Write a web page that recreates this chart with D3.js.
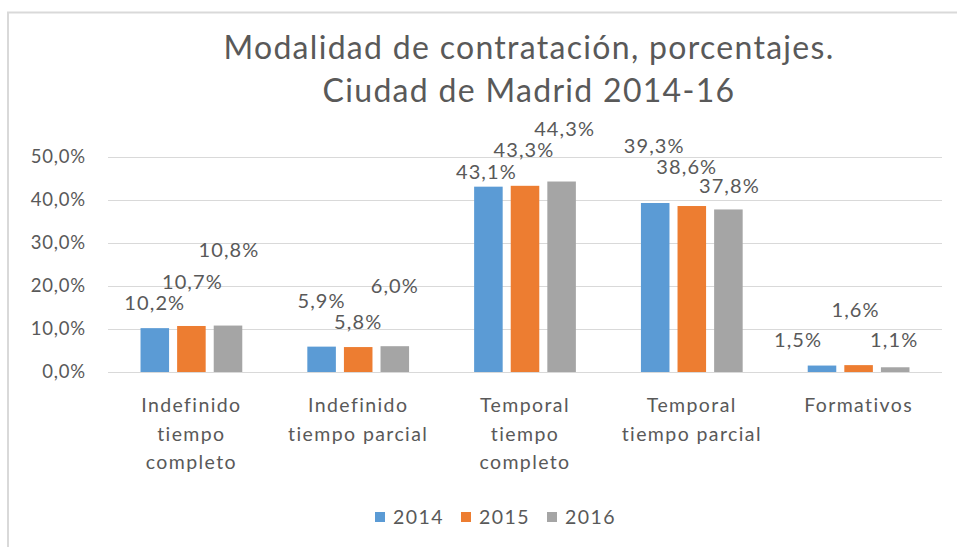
<!DOCTYPE html>
<html>
<head>
<meta charset="utf-8">
<script src="https://cdn.jsdelivr.net/npm/d3@7"></script>
<style>
  html, body { margin: 0; padding: 0; background: #fff; }
  svg { display: block; font-family: Lato, "Open Sans", sans-serif; }
</style>
</head>
<body>
<svg id="chart" width="957" height="547"></svg>
<script>
// ---- data ----
const categories = [
  ["Indefinido", "tiempo", "completo"],
  ["Indefinido", "tiempo parcial"],
  ["Temporal", "tiempo", "completo"],
  ["Temporal", "tiempo parcial"],
  ["Formativos"]
];
const seriesNames = ["2014", "2015", "2016"];
const values2014 = [10.2, 5.9, 43.1, 39.3, 1.5];
const values2015 = [10.7, 5.8, 43.3, 38.6, 1.6];
const values2016 = [10.8, 6.0, 44.3, 37.8, 1.1];
const yTicks = [0, 10, 20, 30, 40, 50];
const titleLines = ["Modalidad de contratación, porcentajes.", "Ciudad de Madrid 2014-16"];

// ---- layout (label nudges in px, [dx, dy] of label centre relative to bar top centre) ----
const labelNudge = [
  [[0, -25], [1, -44], [1, -76]],
  [[0, -46], [0, -25], [0, -60]],
  [[-2, -15], [-1, -36], [3, -53]],
  [[-1, -57], [-5, -39], [1, -23]],
  [[-24, -26], [-3, -55], [-1, -27]]
];
const colors = ["#5b9bd5", "#ed7d31", "#a5a5a5"];
const textColor = "#595959";

const seriesValues = [values2014, values2015, values2016];
const svg = d3.select("#chart");

// chart border
svg.append("path")
  .attr("d", "M8,547 L8,12.5 L957,12.5")
  .attr("fill", "none").attr("stroke", "#d9d9d9").attr("stroke-width", 2);

const plot = { left: 108, right: 942, top: 157, bottom: 372 };

const y = d3.scaleLinear().domain([0, 50]).range([plot.bottom, plot.top]);
const x0 = d3.scaleBand().domain(d3.range(categories.length))
  .range([plot.left, plot.right]).paddingInner(0.39).paddingOuter(0.195);
const x1 = d3.scaleBand().domain(d3.range(seriesNames.length))
  .range([0, x0.bandwidth()]).paddingInner(0.22).paddingOuter(0);

const fmt = v => d3.format(".1f")(v).replace(".", ",") + "%";

// title
svg.append("g").selectAll("text").data(titleLines).join("text")
  .attr("x", 529).attr("y", (d, i) => 59 + i * 43)
  .attr("text-anchor", "middle")
  .attr("font-size", 32).attr("letter-spacing", 1.3).attr("fill", textColor)
  .text(d => d);

// gridlines
svg.append("g").selectAll("line").data(yTicks).join("line")
  .attr("x1", plot.left).attr("x2", plot.right)
  .attr("y1", d => Math.round(y(d)) + 0.5).attr("y2", d => Math.round(y(d)) + 0.5)
  .attr("stroke", "#d9d9d9").attr("stroke-width", 1);

// y axis labels
const yAxis = d3.axisLeft(y).tickValues(yTicks).tickSize(0).tickPadding(0)
  .tickFormat(d => d3.format(".1f")(d).replace(".", ",") + "%");
const yg = svg.append("g").attr("transform", `translate(${86},0)`).call(yAxis);
yg.select(".domain").remove();
yg.selectAll("text").attr("font-size", 18.5).attr("letter-spacing", 0.8).attr("fill", textColor)
  .attr("font-family", "Lato, 'Open Sans', sans-serif");

// bars
const groups = svg.append("g").selectAll("g").data(categories).join("g")
  .attr("transform", (d, i) => `translate(${x0(i)},0)`);
groups.selectAll("rect")
  .data((d, ci) => seriesValues.map((vals, si) => ({ ci, si, v: vals[ci] })))
  .join("rect")
  .attr("x", d => x1(d.si)).attr("width", x1.bandwidth())
  .attr("y", d => y(d.v)).attr("height", d => y(0) - y(d.v))
  .attr("fill", d => colors[d.si]);

// data labels
groups.selectAll("text.lbl")
  .data((d, ci) => seriesValues.map((vals, si) => ({ ci, si, v: vals[ci] })))
  .join("text").attr("class", "lbl")
  .attr("x", d => x1(d.si) + x1.bandwidth() / 2 + labelNudge[d.ci][d.si][0])
  .attr("y", d => y(d.v) + labelNudge[d.ci][d.si][1])
  .attr("dy", "0.35em")
  .attr("text-anchor", "middle").attr("font-size", 20).attr("letter-spacing", 1.1)
  .attr("fill", textColor)
  .text(d => fmt(d.v));

// category labels
const xAxisG = svg.append("g");
categories.forEach((lines, i) => {
  const t = xAxisG.append("text")
    .attr("x", x0(i) + x0.bandwidth() / 2).attr("y", 412)
    .attr("text-anchor", "middle").attr("font-size", 19.5).attr("letter-spacing", 1.4)
    .attr("fill", textColor);
  lines.forEach((ln, k) => {
    t.append("tspan").attr("x", x0(i) + x0.bandwidth() / 2)
      .attr("dy", k === 0 ? 0 : 28.5).text(ln);
  });
});

// legend
const legendX = [375, 461, 547];
const lg = svg.append("g").selectAll("g").data(seriesNames).join("g")
  .attr("transform", (d, i) => `translate(${legendX[i]},${517})`);
lg.append("rect").attr("x", 0).attr("y", -5).attr("width", 10).attr("height", 10)
  .attr("fill", (d, i) => colors[i]);
lg.append("text").attr("x", 18).attr("y", 0).attr("dy", "0.35em")
  .attr("font-size", 19.5).attr("letter-spacing", 1.4).attr("fill", textColor).text(d => d);
</script>
</body>
</html>
